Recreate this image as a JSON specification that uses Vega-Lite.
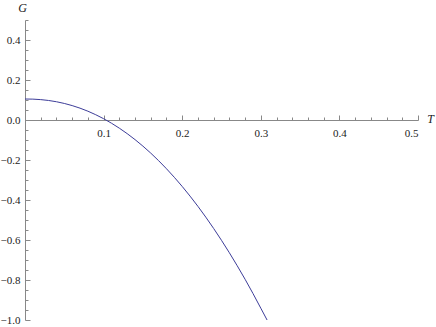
{
  "$schema": "https://vega.github.io/schema/vega-lite/v6.json",
  "width": 393,
  "height": 300,
  "autosize": {"type": "none"},
  "padding": {"left": 25, "top": 20, "right": 18, "bottom": 7},
  "background": "white",
  "config": {"view": {"stroke": null}, "font": "Liberation Serif", "axis": {"grid": false, "domainColor": "#888888", "tickColor": "#888888", "labelFont": "Liberation Serif", "labelFontSize": 11, "labelColor": "#222222", "titleFont": "Liberation Serif", "titleFontWeight": "normal", "titleFontStyle": "italic", "titleFontSize": 12, "titleColor": "#222222"}},
  "data": {"values": [
    {"T": 0.0, "G": 0.105},
    {"T": 0.01, "G": 0.1043},
    {"T": 0.02, "G": 0.1019},
    {"T": 0.03, "G": 0.0976},
    {"T": 0.04, "G": 0.0913},
    {"T": 0.05, "G": 0.0828},
    {"T": 0.06, "G": 0.0721},
    {"T": 0.07, "G": 0.0592},
    {"T": 0.08, "G": 0.044},
    {"T": 0.09, "G": 0.0264},
    {"T": 0.1, "G": 0.0065},
    {"T": 0.11, "G": -0.016},
    {"T": 0.12, "G": -0.0408},
    {"T": 0.13, "G": -0.0682},
    {"T": 0.14, "G": -0.0981},
    {"T": 0.15, "G": -0.1306},
    {"T": 0.16, "G": -0.1656},
    {"T": 0.17, "G": -0.2033},
    {"T": 0.18, "G": -0.2437},
    {"T": 0.19, "G": -0.2866},
    {"T": 0.2, "G": -0.3322},
    {"T": 0.21, "G": -0.3806},
    {"T": 0.22, "G": -0.4317},
    {"T": 0.23, "G": -0.4856},
    {"T": 0.24, "G": -0.5422},
    {"T": 0.25, "G": -0.6017},
    {"T": 0.26, "G": -0.6638},
    {"T": 0.27, "G": -0.7288},
    {"T": 0.28, "G": -0.7964},
    {"T": 0.29, "G": -0.8672},
    {"T": 0.3, "G": -0.941},
    {"T": 0.308, "G": -1.0}
  ]},
  "layer": [
    {
      "mark": {"type": "line", "color": "#3d3d99", "strokeWidth": 1, "clip": true, "interpolate": "monotone"},
      "encoding": {
        "x": {"field": "T", "type": "quantitative", "scale": {"domain": [0, 0.5], "nice": false, "zero": false},
          "axis": {"orient": "bottom", "offset": -200, "values": [0.1, 0.2, 0.3, 0.4, 0.5], "format": ".1f", "tickSize": -5, "labelPadding": 12, "labelFont": "Liberation Serif", "title": "T", "titleX": 405, "titleY": -2, "titleAlign": "center", "titleBaseline": "middle", "titleAngle": 0}},
        "y": {"field": "G", "type": "quantitative", "scale": {"domain": [-1, 0.5], "nice": false, "zero": false},
          "axis": {"orient": "left", "values": [-1, -0.8, -0.6, -0.4, -0.2, 0, 0.2, 0.4], "format": ".1f", "tickSize": -5, "labelPadding": 10, "labelFont": "Liberation Serif", "title": "G", "titleX": -3, "titleY": -13, "titleAlign": "center", "titleBaseline": "middle", "titleAngle": 0}}
      }
    },
    {
      "mark": {"type": "line", "opacity": 0},
      "encoding": {
        "x": {"field": "T", "type": "quantitative",
          "axis": {"orient": "bottom", "offset": -200, "values": [0.02, 0.04, 0.06, 0.08, 0.12, 0.14, 0.16, 0.18, 0.22, 0.24, 0.26, 0.28, 0.32, 0.34, 0.36, 0.38, 0.42, 0.44, 0.46, 0.48], "labels": false, "domain": false, "tickSize": -3, "title": null}},
        "y": {"field": "G", "type": "quantitative",
          "axis": {"orient": "left", "values": [-0.95, -0.9, -0.85, -0.75, -0.7, -0.65, -0.55, -0.5, -0.45, -0.35, -0.3, -0.25, -0.15, -0.1, -0.05, 0.05, 0.1, 0.15, 0.25, 0.3, 0.35, 0.45, 0.5], "labels": false, "domain": false, "tickSize": -3, "title": null}}
      }
    }
  ],
  "resolve": {"scale": {"x": "shared", "y": "shared"}, "axis": {"x": "independent", "y": "independent"}}
}
